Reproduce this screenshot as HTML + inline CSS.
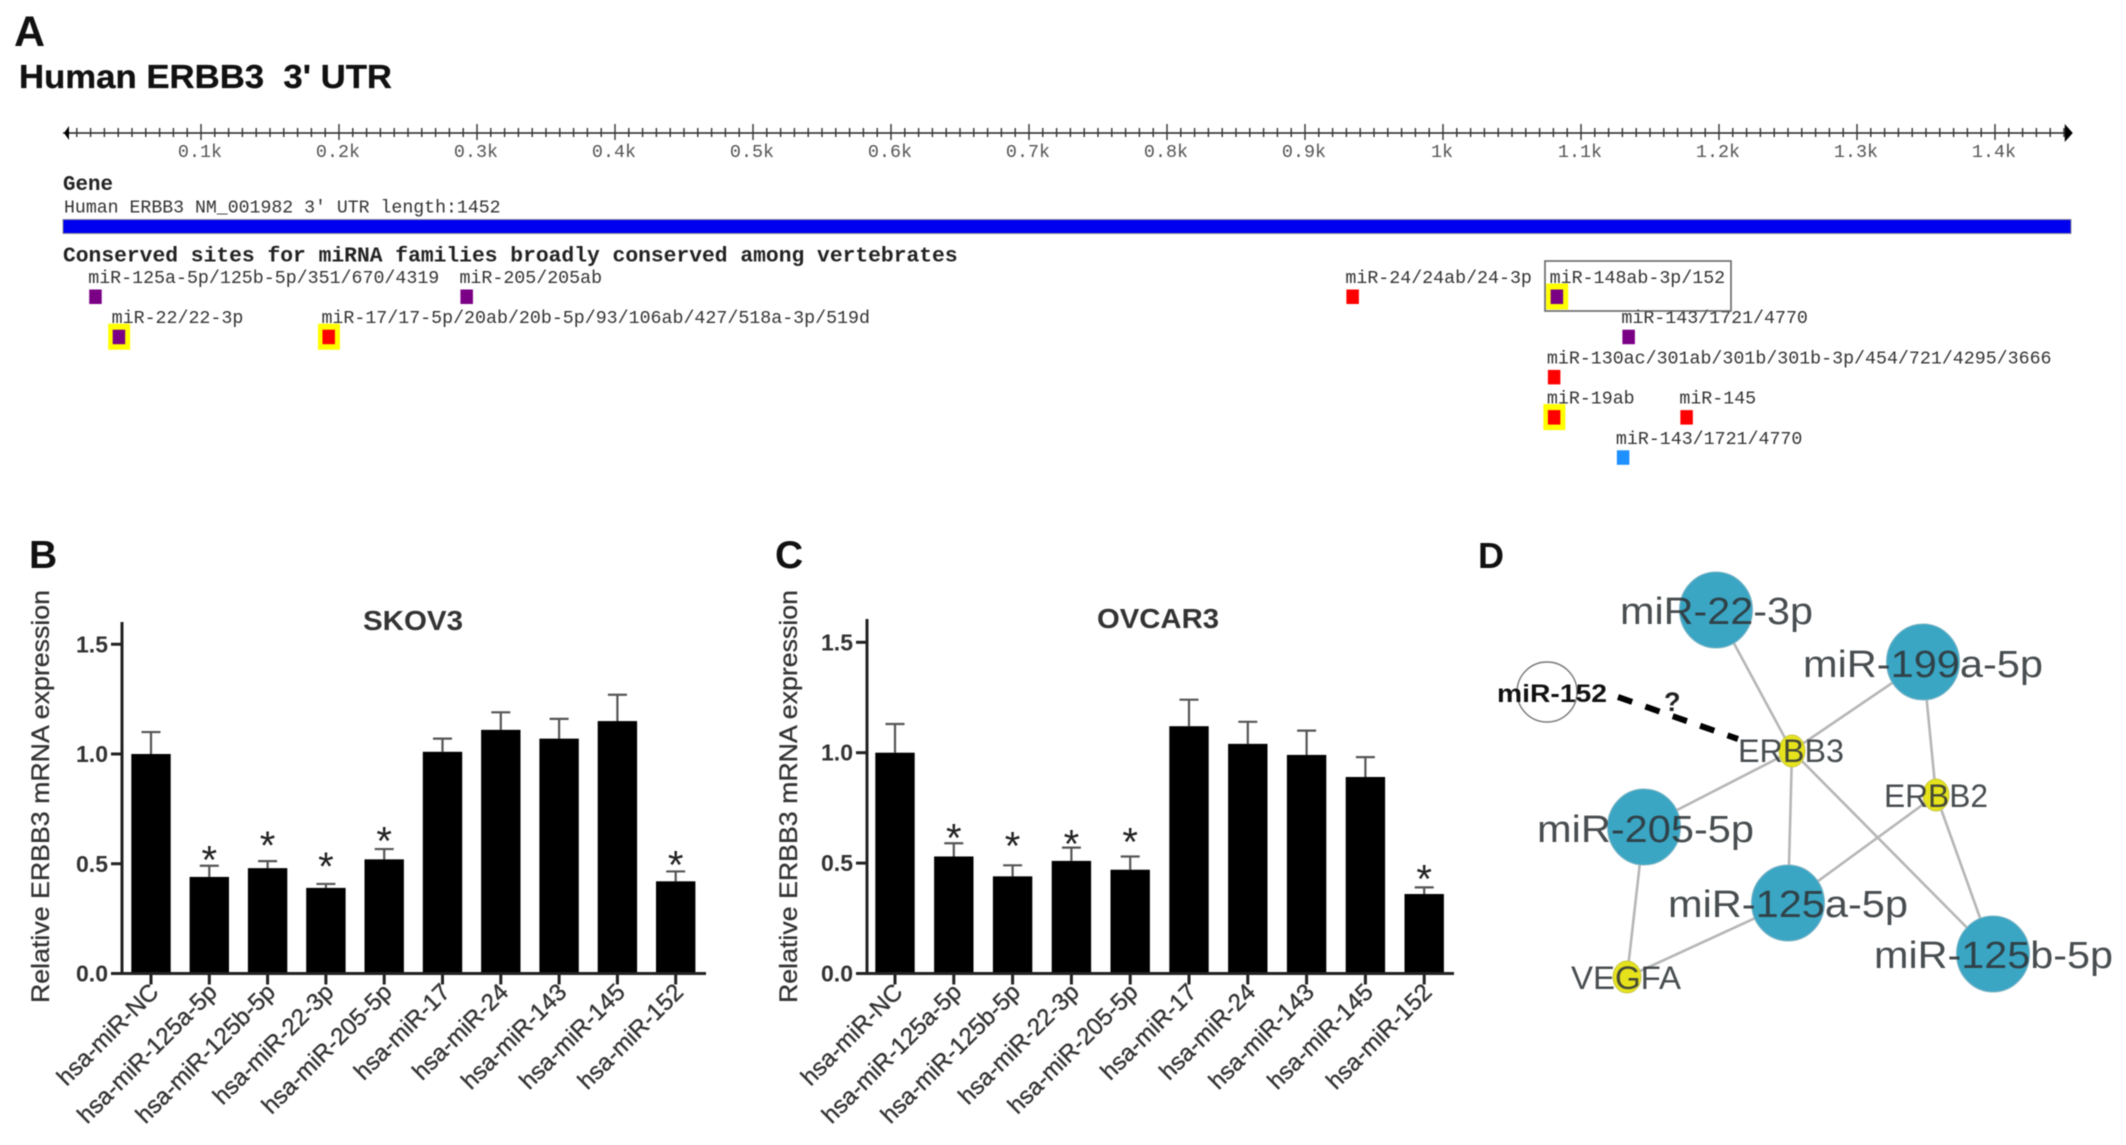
<!DOCTYPE html>
<html lang="en">
<head>
<meta charset="utf-8">
<title>ERBB3 3' UTR miRNA sites, expression and network</title>
<style>
html,body{margin:0;padding:0;background:#fff;}
#figure{display:block;width:2126px;height:1145px;background:#fff;filter:blur(0.6px);}
.sans{font-family:"Liberation Sans",Arial,sans-serif;}
.mono{font-family:"Liberation Mono","DejaVu Sans Mono",monospace;}
.net-label{font-family:"Liberation Sans",Arial,sans-serif;fill:#2f3438;fill-opacity:.88;}
.edge{stroke:#b6b6b6;stroke-width:2.6;}
.mir-node{fill:#3aa6c4;stroke:#7fb4c4;stroke-width:1;}
.gene-node{fill:#e6e31c;stroke:#c9c84a;stroke-width:1;}
</style>
</head>
<body>
<svg id="figure" xmlns="http://www.w3.org/2000/svg" width="2126" height="1145" viewBox="0 0 2126 1145">
  <!-- Panel A -->
  <g id="panel-a">
    <text class="sans" x="14" y="46" font-size="43" font-weight="bold" fill="#111">A</text>
    <text class="sans" x="19" y="88" font-size="33" font-weight="bold" fill="#111" stroke="#111" stroke-width="0.3" textLength="373" lengthAdjust="spacingAndGlyphs" xml:space="preserve">Human ERBB3  3' UTR</text>
    <g id="ruler"></g>
    <text class="mono" x="63" y="190" font-size="20.8" font-weight="bold" fill="#222">Gene</text>
    <text class="mono" x="64" y="212.5" font-size="18.2" fill="#333">Human ERBB3 NM_001982 3' UTR length:1452</text>
    <rect x="63" y="219.5" width="2008" height="14" fill="#0000f0" stroke="#8a8a9a" stroke-width="1"/>
    <text class="mono" x="63" y="261.5" font-size="21.3" font-weight="bold" fill="#222">Conserved sites for miRNA families broadly conserved among vertebrates</text>
    <g id="sites"></g>
    <rect x="1545" y="261" width="186" height="50" fill="none" stroke="#666" stroke-width="1.6"/>
  </g>

  <!-- Panels B and C -->
  <g id="panel-b">
    <text class="sans" x="29" y="568" font-size="39" font-weight="bold" fill="#111">B</text>
  </g>
  <g id="panel-c">
    <text class="sans" x="775" y="568" font-size="39" font-weight="bold" fill="#111">C</text>
  </g>

  <!-- Panel D -->
  <g id="panel-d">
    <text class="sans" x="1478" y="568" font-size="36" font-weight="bold" fill="#111">D</text>
    <g>
      <line class="edge" x1="1716" y1="610" x2="1792" y2="751"/>
      <line class="edge" x1="1923" y1="662" x2="1792" y2="751"/>
      <line class="edge" x1="1644" y1="827" x2="1792" y2="751"/>
      <line class="edge" x1="1788" y1="903" x2="1792" y2="751"/>
      <line class="edge" x1="1993" y1="954" x2="1792" y2="751"/>
      <line class="edge" x1="1923" y1="662" x2="1936" y2="795"/>
      <line class="edge" x1="1788" y1="903" x2="1936" y2="795"/>
      <line class="edge" x1="1993" y1="954" x2="1936" y2="795"/>
      <line class="edge" x1="1644" y1="827" x2="1627" y2="977"/>
      <line class="edge" x1="1788" y1="903" x2="1627" y2="977"/>
    </g>
    <line x1="1618" y1="697" x2="1738" y2="739" stroke="#000" stroke-width="6" stroke-dasharray="15 14"/>
    <text class="sans" x="1664" y="711" font-size="27" font-weight="bold" fill="#222">?</text>
    <ellipse cx="1547" cy="692" rx="30" ry="30" fill="#fff" stroke="#777" stroke-width="1.4"/>
    <ellipse class="mir-node" cx="1716" cy="610" rx="36.5" ry="38"/>
    <ellipse class="mir-node" cx="1923" cy="662" rx="36.5" ry="38"/>
    <ellipse class="mir-node" cx="1644" cy="827" rx="36.5" ry="38"/>
    <ellipse class="mir-node" cx="1788" cy="903" rx="36.5" ry="38"/>
    <ellipse class="mir-node" cx="1993" cy="954" rx="36.5" ry="38"/>
    <ellipse class="gene-node" cx="1792" cy="751" rx="13" ry="16"/>
    <ellipse class="gene-node" cx="1936" cy="795" rx="13" ry="16"/>
    <ellipse class="gene-node" cx="1627" cy="977" rx="14" ry="16"/>
    <text class="sans" x="1497" y="702" font-size="25" font-weight="bold" fill="#111" textLength="110" lengthAdjust="spacingAndGlyphs">miR-152</text>
    <text class="net-label" x="1620" y="624" font-size="38" textLength="193" lengthAdjust="spacingAndGlyphs">miR-22-3p</text>
    <text class="net-label" x="1803" y="677" font-size="38" textLength="240" lengthAdjust="spacingAndGlyphs">miR-199a-5p</text>
    <text class="net-label" x="1537" y="842" font-size="38" textLength="217" lengthAdjust="spacingAndGlyphs">miR-205-5p</text>
    <text class="net-label" x="1668" y="917" font-size="38" textLength="240" lengthAdjust="spacingAndGlyphs">miR-125a-5p</text>
    <text class="net-label" x="1874" y="968" font-size="38" textLength="239" lengthAdjust="spacingAndGlyphs">miR-125b-5p</text>
    <text class="net-label" x="1738" y="762" font-size="32" textLength="106" lengthAdjust="spacingAndGlyphs">ERBB3</text>
    <text class="net-label" x="1884" y="807" font-size="32" textLength="104" lengthAdjust="spacingAndGlyphs">ERBB2</text>
    <text class="net-label" x="1571" y="989" font-size="32" textLength="110" lengthAdjust="spacingAndGlyphs">VEGFA</text>
  </g>
</svg>
<script>
// ---- Bar chart data ----
const categories = ['hsa-miR-NC','hsa-miR-125a-5p','hsa-miR-125b-5p','hsa-miR-22-3p','hsa-miR-205-5p','hsa-miR-17','hsa-miR-24','hsa-miR-143','hsa-miR-145','hsa-miR-152'];
const yTickValues = [0, 0.5, 1.0, 1.5];
const yTickLabels = ['0.0', '0.5', '1.0', '1.5'];
const skovValues = [1.00, 0.44, 0.48, 0.39, 0.52, 1.01, 1.11, 1.07, 1.15, 0.42];
const skovErrorTops = [1.10, 0.491, 0.512, 0.408, 0.567, 1.07, 1.19, 1.16, 1.27, 0.465];
const skovStarLevels = [null, 0.54, 0.605, 0.51, 0.626, null, null, null, null, 0.517];
const ovcarValues = [1.00, 0.53, 0.44, 0.51, 0.47, 1.12, 1.04, 0.99, 0.89, 0.36];
const ovcarErrorTops = [1.13, 0.59, 0.49, 0.57, 0.53, 1.24, 1.14, 1.10, 0.98, 0.39];
const ovcarStarLevels = [null, 0.636, 0.60, 0.609, 0.618, null, null, null, null, 0.45];

// ---- Ruler and site data ----
const rulerLabelValues = [100,200,300,400,500,600,700,800,900,1000,1100,1200,1300,1400];
const rulerLabels = ['0.1k','0.2k','0.3k','0.4k','0.5k','0.6k','0.7k','0.8k','0.9k','1k','1.1k','1.2k','1.3k','1.4k'];
const rulerLength = 1452;
const siteNames = ['miR-125a-5p/125b-5p/351/670/4319','miR-205/205ab','miR-24/24ab/24-3p','miR-148ab-3p/152','miR-22/22-3p','miR-17/17-5p/20ab/20b-5p/93/106ab/427/518a-3p/519d','miR-143/1721/4770','miR-130ac/301ab/301b/301b-3p/454/721/4295/3666','miR-19ab','miR-145','miR-143/1721/4770'];
const sitePositions = [19, 288, 930, 1078, 36, 188, 1130, 1076, 1076, 1172, 1126];
const siteRows = [0, 0, 0, 0, 1, 1, 1, 2, 3, 3, 4];
const siteKinds = ['7mer-m8','7mer-m8','8mer','7mer-m8','7mer-m8','8mer','7mer-m8','8mer','8mer','8mer','7mer-a1'];
const siteHighlighted = [false, false, false, true, true, true, false, false, true, false, false];

const SVG_NS = 'http://www.w3.org/2000/svg';
function svgEl(tag, attrs) {
  const el = document.createElementNS(SVG_NS, tag);
  for (const k in attrs) el.setAttribute(k, attrs[k]);
  return el;
}
function slug(s) { return s.toLowerCase().replace(/[^a-z0-9]+/g, '-'); }

// ---- Ruler ----
const ntX = n => 63 + 1.38 * n;
(function drawRuler() {
  const g = document.getElementById('ruler');
  const axisLine = svgEl('line', {x1: ntX(0), y1: 133, x2: ntX(rulerLength), y2: 133, stroke: '#222', 'stroke-width': 1.6});
  
  
  g.appendChild(axisLine);
  for (let n = 10; n < rulerLength; n += 10) {
    const major = n % 100 === 0;
    const t = svgEl('line', {x1: ntX(n), x2: ntX(n), y1: major ? 124 : 128, y2: major ? 140 : 137, stroke: '#333', 'stroke-width': 1.4});
    
    
    g.appendChild(t);
  }
  rulerLabelValues.forEach((v, i) => {
    const label = svgEl('text', {x: ntX(v) - 1, y: 157, 'text-anchor': 'middle', 'font-size': 18.4, fill: '#555'});
    label.setAttribute('class', 'mono');
    
    
    label.textContent = rulerLabels[i];
    g.appendChild(label);
  });
  const leftArrow = svgEl('polygon', {points: [[ntX(0)+1,133],[ntX(0)+6,126],[ntX(0)+6,140]].join(' '), fill: '#000'});
  
  
  g.appendChild(leftArrow);
  const end = ntX(rulerLength) + 6;
  const rightArrow = svgEl('polygon', {points: [[end,133],[end-8,124],[end-8,142]].join(' '), fill: '#000'});
  
  
  g.appendChild(rightArrow);
})();

// ---- miRNA sites ----
(function drawSites() {
  const g = document.getElementById('sites');
  const kindColor = k => k === '8mer' ? '#ff0000' : k === '7mer-a1' ? '#1e90ff' : '#7a0085';
  const rowY = r => 289.5 + 40.2 * r;
  siteNames.forEach((name, i) => {
    const x = ntX(sitePositions[i]);
    const y = rowY(siteRows[i]);
    if (siteHighlighted[i]) {
      const halo = svgEl('rect', {x: x - 4.5, y: y - 6, width: 22, height: 26, fill: '#ffff00'});
      
      
      g.appendChild(halo);
    }
    const mark = svgEl('rect', {x: x, y: y, width: 12.5, height: 14.5, fill: kindColor(siteKinds[i])});
    
    
    g.appendChild(mark);
    const label = svgEl('text', {x: x - 1, y: y - 6.5, 'font-size': 18.3, fill: '#333'});
    label.setAttribute('class', 'mono');
    
    
    label.textContent = name;
    g.appendChild(label);
  });
})();

// ---- Bar charts ----
function drawBarChart(gId, prefix, title, values, errorTops, starLevels, frame) {
  const g = document.getElementById(gId);
  const yScale = v => frame.y0 - v * frame.unit;
  const xScale = i => frame.x0 + i * frame.step;

  const yTitle = svgEl('text', {transform: 'translate(' + frame.yTitleX + ',1003) rotate(-90)', 'font-size': 25, fill: '#333', stroke: '#333', 'stroke-width': 0.3, textLength: 413, lengthAdjust: 'spacingAndGlyphs'});
  yTitle.setAttribute('class', 'sans');
  
  
  yTitle.textContent = 'Relative ERBB3 mRNA expression';
  g.appendChild(yTitle);

  const chartTitle = svgEl('text', {x: frame.titleX, y: frame.titleY, 'text-anchor': 'middle', 'font-size': 28, 'font-weight': 'bold', fill: '#333', textLength: frame.titleW, lengthAdjust: 'spacingAndGlyphs'});
  chartTitle.setAttribute('class', 'sans');
  
  
  chartTitle.textContent = title;
  g.appendChild(chartTitle);

  categories.forEach((cat, i) => {
    const cx = xScale(i);
    const errStem = svgEl('line', {x1: cx, x2: cx, y1: yScale(values[i]), y2: yScale(errorTops[i]), stroke: '#555', 'stroke-width': 2.2});
    
    
    g.appendChild(errStem);
    const errCap = svgEl('line', {x1: cx - 9.5, x2: cx + 9.5, y1: yScale(errorTops[i]), y2: yScale(errorTops[i]), stroke: '#555', 'stroke-width': 2.2});
    
    
    g.appendChild(errCap);

    const bar = svgEl('rect', {x: cx - 19.7, y: yScale(values[i]), width: 39.4, height: frame.y0 - yScale(values[i]), fill: '#000'});
    
    
    g.appendChild(bar);

    const tick = svgEl('line', {x1: cx, x2: cx, y1: frame.y0, y2: frame.y0 + 11, stroke: '#222', 'stroke-width': 3});
    
    
    g.appendChild(tick);

    const label = svgEl('text', {transform: 'translate(' + (cx + 9) + ',' + (frame.y0 + 20) + ') rotate(-45)', 'text-anchor': 'end', 'font-size': 24, fill: '#333', stroke: '#333', 'stroke-width': 0.35});
    label.setAttribute('class', 'sans');
    
    
    label.textContent = cat;
    g.appendChild(label);

    if (starLevels[i] !== null) {
      const star = svgEl('text', {x: cx, y: yScale(starLevels[i]) + 18.5, 'text-anchor': 'middle', 'font-size': 40, fill: '#222'});
      star.setAttribute('class', 'sans');
      
      
      star.textContent = '*';
      g.appendChild(star);
    }
  });

  yTickValues.forEach((v, i) => {
    const tick = svgEl('line', {x1: frame.axisX - 11, x2: frame.axisX, y1: yScale(v), y2: yScale(v), stroke: '#222', 'stroke-width': 3});
    
    
    g.appendChild(tick);
    const label = svgEl('text', {x: frame.axisX - 14, y: yScale(v) + 8, 'text-anchor': 'end', 'font-size': 23, 'font-weight': 'bold', fill: '#333'});
    label.setAttribute('class', 'sans');
    
    
    label.textContent = yTickLabels[i];
    g.appendChild(label);
  });

  const yAxis = svgEl('line', {x1: frame.axisX, x2: frame.axisX, y1: frame.axisTop, y2: frame.y0 + 1.5, stroke: '#222', 'stroke-width': 3});
  
  
  g.appendChild(yAxis);
  const xAxis = svgEl('line', {x1: frame.axisX - 11, x2: frame.axisEnd, y1: frame.y0, y2: frame.y0, stroke: '#222', 'stroke-width': 3});
  
  
  g.appendChild(xAxis);
}

drawBarChart('panel-b', 'skov3', 'SKOV3', skovValues, skovErrorTops, skovStarLevels, {
  x0: 151, step: 58.3, y0: 973.5, unit: 219.5, axisX: 122, axisTop: 622, axisEnd: 706,
  yTitleX: 49, titleX: 413, titleY: 630, titleW: 100
});
drawBarChart('panel-c', 'ovcar3', 'OVCAR3', ovcarValues, ovcarErrorTops, ovcarStarLevels, {
  x0: 895, step: 58.8, y0: 973.5, unit: 220.8, axisX: 867, axisTop: 619, axisEnd: 1454,
  yTitleX: 797, titleX: 1158, titleY: 628, titleW: 122
});
</script>
</body>
</html>
